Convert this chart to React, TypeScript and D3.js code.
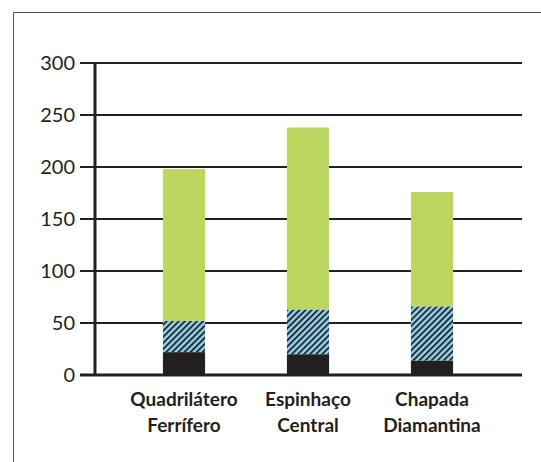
import * as d3 from "d3";

const categories = [
  ["Quadrilátero", "Ferrífero"],
  ["Espinhaço", "Central"],
  ["Chapada", "Diamantina"],
];
const blackValues = [22, 20, 14];
const hatchValues = [30, 43, 52];
const greenValues = [146, 175, 110];
const yTicks = [0, 50, 100, 150, 200, 250, 300];

const W = 541;
const H = 462;
const ink = "#231f20";

export default function App() {
  const x = d3
    .scaleBand<number>()
    .domain(categories.map((_, i) => i))
    .range([122, 494])
    .paddingInner(0.66)
    .paddingOuter(0.33);
  const y = d3.scaleLinear().domain([0, 300]).range([375, 63]);

  const rows = categories.map((_, i) => ({
    i,
    black: blackValues[i],
    hatch: hatchValues[i],
    green: greenValues[i],
  }));
  const stack = d3.stack<any>().keys(["black", "hatch", "green"])(rows);
  const fills: Record<string, string> = {
    black: ink,
    hatch: "url(#hatch)",
    green: "#bdd660",
  };

  return (
    <svg
      width={W}
      height={H}
      style={{ position: "absolute", left: 0, top: 0, background: "#fff" }}
      fontFamily="Lato, 'Liberation Sans', sans-serif"
    >
      <defs>
        <pattern
          id="hatch"
          width={4.3}
          height={8}
          patternUnits="userSpaceOnUse"
          patternTransform="rotate(45)"
        >
          <rect width={4.3} height={8} fill="#8ed3ef" />
          <line x1={1} y1={0} x2={1} y2={8} stroke={ink} strokeWidth={1.8} />
        </pattern>
      </defs>
      <rect x={0} y={0} width={W} height={H} fill="#fff" />
      {/* frame */}
      <path d={`M13.5,${H} V12.5 H${W}`} fill="none" stroke="#555" strokeWidth={1} />

      {/* gridlines with ticks */}
      {yTicks.map((t) => (
        <g key={t}>
          <line
            x1={80}
            x2={522}
            y1={y(t)}
            y2={y(t)}
            stroke={ink}
            strokeWidth={t === 0 ? 3 : 2}
          />
          <text
            x={75}
            y={y(t)}
            dy="0.36em"
            textAnchor="end"
            fontSize={20}
            fill={ink}
          >
            {t}
          </text>
        </g>
      ))}

      {/* bars */}
      {stack.map((layer) =>
        layer.map((d, i) => (
          <rect
            key={layer.key + i}
            x={x(i)}
            width={x.bandwidth()}
            y={y(d[1])}
            height={y(d[0]) - y(d[1])}
            fill={fills[layer.key]}
          />
        ))
      )}

      {/* y axis */}
      <line x1={95} x2={95} y1={y(300) - 1} y2={y(0) + 1} stroke={ink} strokeWidth={3} />

      {/* category labels */}
      {categories.map((lines, i) => (
        <text
          key={i}
          x={(x(i) ?? 0) + x.bandwidth() / 2}
          y={406}
          textAnchor="middle"
          fontSize={19}
          fontWeight={700}
          fill={ink}
        >
          {lines.map((l, j) => (
            <tspan key={j} x={(x(i) ?? 0) + x.bandwidth() / 2} dy={j === 0 ? 0 : 26}>
              {l}
            </tspan>
          ))}
        </text>
      ))}
    </svg>
  );
}
